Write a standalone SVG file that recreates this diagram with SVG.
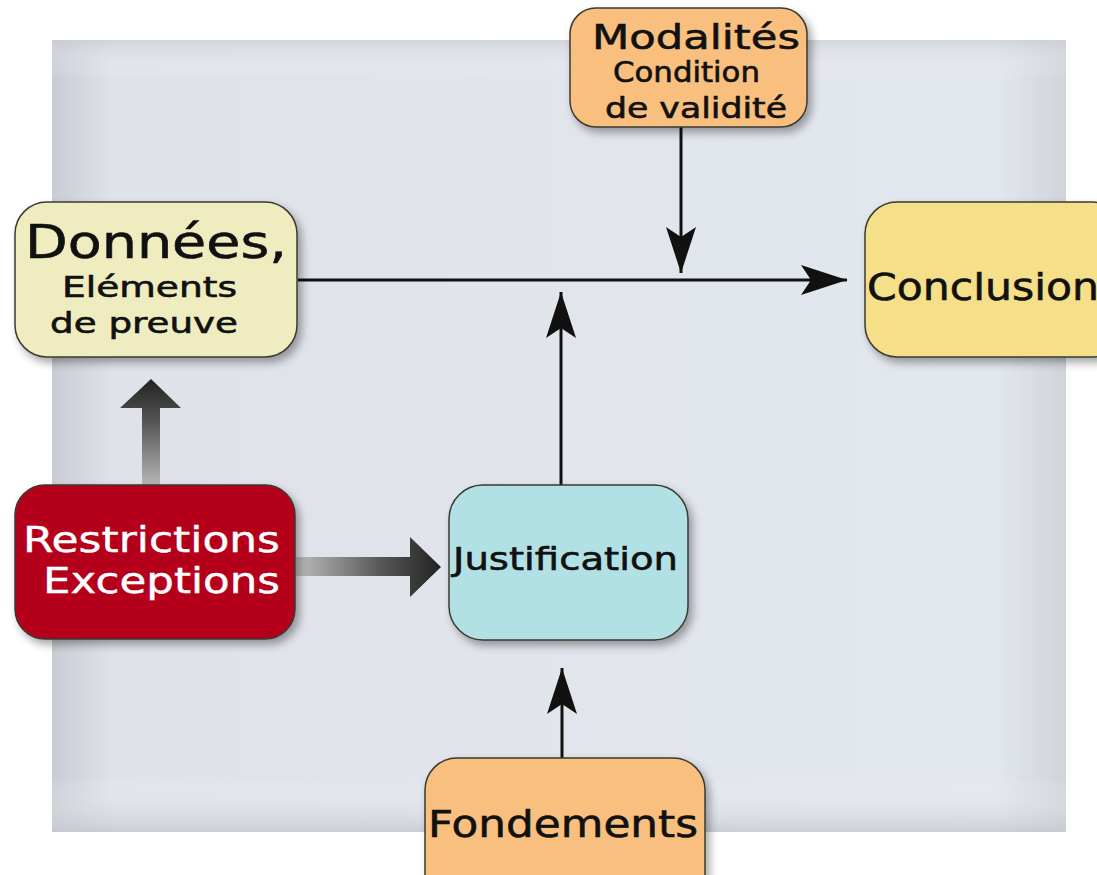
<svg xmlns="http://www.w3.org/2000/svg" width="1097" height="875" viewBox="0 0 1097 875">
<defs>
<style>
.box{stroke:#3a3a30;stroke-width:1.5}
.t{font-family:"DejaVu Sans",Verdana,sans-serif;fill:#111;stroke:#111;stroke-width:0.6;text-anchor:start}
.w{fill:#fff;stroke:#fff;stroke-width:0.4}
.ln{stroke:#111;stroke-width:3;fill:none}
</style>
<linearGradient id="panelH" x1="0" y1="0" x2="1" y2="0">
<stop offset="0" stop-color="#c9ccd3"/>
<stop offset="0.06" stop-color="#dfe2e9"/>
<stop offset="0.93" stop-color="#e3e7ee"/>
<stop offset="1" stop-color="#d0d3da"/>
</linearGradient>
<linearGradient id="panelV" x1="0" y1="0" x2="0" y2="1">
<stop offset="0" stop-color="#c8cbd3" stop-opacity="0.6"/>
<stop offset="0.05" stop-color="#ffffff" stop-opacity="0"/>
<stop offset="0.93" stop-color="#ffffff" stop-opacity="0"/>
<stop offset="1" stop-color="#c2c5cd" stop-opacity="0.7"/>
</linearGradient>
<linearGradient id="gUp" x1="0" y1="1" x2="0" y2="0">
<stop offset="0" stop-color="#b8b8b8"/>
<stop offset="0.6" stop-color="#555"/>
<stop offset="1" stop-color="#222"/>
</linearGradient>
<linearGradient id="gRight" x1="0" y1="0" x2="1" y2="0">
<stop offset="0" stop-color="#bdbdbd"/>
<stop offset="0.6" stop-color="#555"/>
<stop offset="1" stop-color="#222"/>
</linearGradient>
<filter id="sh" x="-10%" y="-10%" width="130%" height="130%">
<feDropShadow dx="4" dy="5" stdDeviation="4" flood-color="#000" flood-opacity="0.35"/>
</filter>
<marker id="ah" markerWidth="48" markerHeight="34" refX="46" refY="17" orient="auto" markerUnits="userSpaceOnUse">
<path d="M0,2 L46,17 L0,32 L10,17 Z" fill="#111"/>
</marker>
</defs>

<g id="panel">
<rect x="52" y="40" width="1014" height="792" fill="url(#panelH)"/>
<rect x="52" y="40" width="1014" height="792" fill="url(#panelV)"/>
</g>

<g id="connectors">
<line class="ln" x1="298" y1="280" x2="847" y2="280" marker-end="url(#ah)"/>
<line class="ln" x1="681" y1="127" x2="681" y2="273" marker-end="url(#ah)"/>
<line class="ln" x1="561" y1="485" x2="561" y2="292" marker-end="url(#ah)"/>
<line class="ln" x1="562" y1="758" x2="562" y2="668" marker-end="url(#ah)"/>
<path d="M142,486 L142,408 L120,408 L151,379 L181,408 L160,408 L160,486 Z" fill="url(#gUp)"/>
<path d="M296,557 L410,557 L410,537 L441,567 L410,597 L410,576 L296,576 Z" fill="url(#gRight)"/>
</g>

<g id="donnees">
<rect class="box" x="15" y="202" width="282" height="155" rx="32" fill="#efedbf" filter="url(#sh)"/>
<text class="t" x="25" y="258" font-size="46" textLength="262" lengthAdjust="spacingAndGlyphs">Données,</text>
<text class="t" x="62" y="297" font-size="28" textLength="175" lengthAdjust="spacingAndGlyphs">Eléments</text>
<text class="t" x="50" y="333" font-size="28" textLength="188" lengthAdjust="spacingAndGlyphs">de preuve</text>
</g>

<g id="modalites">
<rect class="box" x="570" y="8" width="237" height="119" rx="26" fill="#f8bf7e" filter="url(#sh)"/>
<text class="t" x="592" y="49" font-size="34" textLength="208" lengthAdjust="spacingAndGlyphs">Modalités</text>
<text class="t" x="613" y="82" font-size="28" textLength="147" lengthAdjust="spacingAndGlyphs">Condition</text>
<text class="t" x="605" y="118" font-size="28" textLength="182" lengthAdjust="spacingAndGlyphs">de validité</text>
</g>

<g id="conclusion">
<rect class="box" x="865" y="202" width="260" height="155" rx="32" fill="#f6df89" filter="url(#sh)"/>
<text class="t" x="867" y="300" font-size="38" textLength="232" lengthAdjust="spacingAndGlyphs">Conclusion</text>
</g>

<g id="restrictions">
<rect class="box" x="15" y="485" width="280" height="154" rx="30" fill="#b5061f" filter="url(#sh)"/>
<text class="t w" x="23" y="552" font-size="35" textLength="257" lengthAdjust="spacingAndGlyphs">Restrictions</text>
<text class="t w" x="43" y="593" font-size="35" textLength="237" lengthAdjust="spacingAndGlyphs">Exceptions</text>
</g>

<g id="justification">
<rect class="box" x="449" y="485" width="239" height="155" rx="34" fill="#b1e1e4" filter="url(#sh)"/>
<text class="t" x="453" y="570" font-size="32" textLength="225" lengthAdjust="spacingAndGlyphs">Justification</text>
</g>

<g id="fondements">
<rect class="box" x="425" y="758" width="280" height="150" rx="32" fill="#f8bf7e" filter="url(#sh)"/>
<text class="t" x="428" y="837" font-size="38" textLength="270" lengthAdjust="spacingAndGlyphs">Fondements</text>
</g>
</svg>
